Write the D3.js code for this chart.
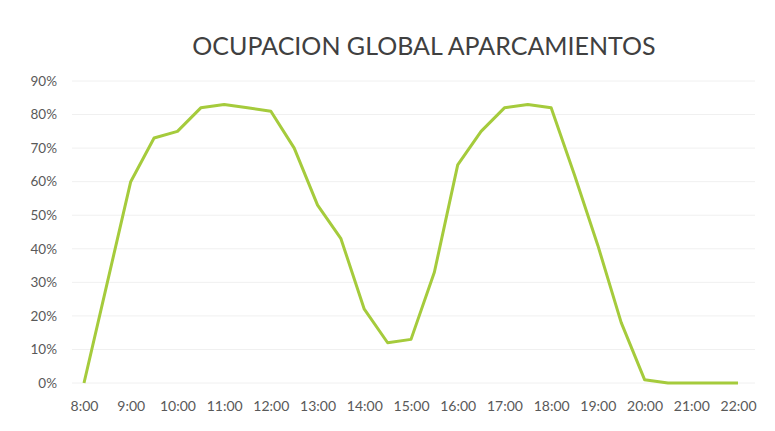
<!DOCTYPE html>
<html lang="es">
<head>
<meta charset="UTF-8">
<title>Ocupacion global aparcamientos</title>
<script src="https://cdn.jsdelivr.net/npm/d3@7"></script>
<style>
    body { margin: 0; background: #fff; }
    svg { display: block; }
    .tick text { font-family: Lato, "Open Sans", sans-serif; fill: #595959; }
</style>
</head>
<body>
<div id="chart"></div>
<script>
    // horas (cada media hora) y ocupacion en %
    var hours = [8, 8.5, 9, 9.5, 10, 10.5, 11, 11.5, 12, 12.5, 13, 13.5, 14, 14.5, 15,
                 15.5, 16, 16.5, 17, 17.5, 18, 18.5, 19, 19.5, 20, 20.5, 21, 21.5, 22]
    var occupancy = [0, 30, 60, 73, 75, 82, 83, 82, 81, 70, 53, 43, 22, 12, 13,
                     33, 65, 75, 82, 83, 82, 62, 41, 18, 1, 0, 0, 0, 0]
    var hourTicks = [8, 9, 10, 11, 12, 13, 14, 15, 16, 17, 18, 19, 20, 21, 22]
    var pctTicks = [0, 10, 20, 30, 40, 50, 60, 70, 80, 90]

    var W = 775, H = 431
    var margin = {top: 81, right: 37, bottom: 48, left: 84}

    var svg = d3.select('#chart').append('svg')
        .attr('width', W).attr('height', H)

    var x = d3.scaleLinear().domain([8, 22]).range([margin.left, W - margin.right])
    var y = d3.scaleLinear().domain([0, 90]).range([H - margin.bottom, margin.top])

    // lineas de la cuadricula
    svg.append('g')
        .selectAll('line')
        .data(pctTicks)
        .join('line')
        .attr('x1', 72).attr('x2', 755)
        .attr('y1', function (d) { return y(d) }).attr('y2', function (d) { return y(d) })
        .attr('stroke', '#f0f0f0').attr('stroke-width', 1)

    var yAxis = svg.append('g')
        .attr('transform', 'translate(57,0)')
        .call(d3.axisLeft(y).tickValues(pctTicks).tickSize(0).tickPadding(0)
            .tickFormat(function (d) { return d + '%' }))
    yAxis.select('.domain').remove()
    yAxis.selectAll('text').style('font-size', '13.5px')

    var xAxis = svg.append('g')
        .attr('transform', 'translate(0,' + (H - margin.bottom + 18) + ')')
        .call(d3.axisBottom(x).tickValues(hourTicks).tickSize(0).tickPadding(0)
            .tickFormat(function (d) { return d + ':00' }))
    xAxis.select('.domain').remove()
    xAxis.selectAll('text').style('font-size', '14px')

    var line = d3.line()
        .x(function (d, i) { return x(hours[i]) })
        .y(function (d) { return y(d) })

    svg.append('path')
        .datum(occupancy)
        .attr('fill', 'none')
        .attr('stroke', '#a5cb3c')
        .attr('stroke-width', 3)
        .attr('stroke-linejoin', 'round')
        .attr('d', line)

    svg.append('text')
        .attr('x', 424).attr('y', 55)
        .attr('text-anchor', 'middle')
        .style('font-family', 'Lato, "Open Sans", sans-serif')
        .style('font-size', '25px')
        .style('fill', '#404040')
        .text('OCUPACION GLOBAL APARCAMIENTOS')
</script>
</body>
</html>
